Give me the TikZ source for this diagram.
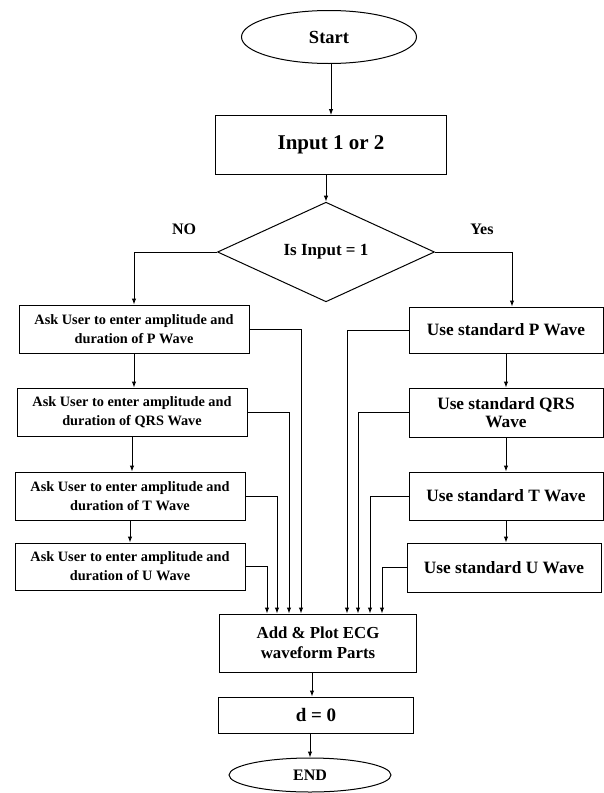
\documentclass[tikz,border=0pt]{standalone}
\usepackage{fontspec}
\setmainfont{Liberation Serif}
\usetikzlibrary{positioning, arrows.meta, shapes.geometric, calc}

\begin{document}
\begin{tikzpicture}[
  x=1pt, y=-1pt,
  font=\bfseries,
  flow/.style={-{Latex[length=6pt,width=4.5pt]}, line width=1pt},
  terminal/.style={draw, ellipse, inner sep=0pt, line width=1pt},
  process/.style={draw, rectangle, align=center, inner sep=2pt, line width=1pt},
  askbox/.style={process, minimum width=230pt, minimum height=48pt,
                 font=\fontsize{14.3}{19}\selectfont\bfseries},
  stdbox/.style={process, minimum width=194pt, minimum height=48pt,
                 font=\fontsize{17.3}{18}\selectfont\bfseries},
  decision/.style={draw, diamond, inner sep=0pt, line width=1pt,
                   minimum width=217pt, minimum height=84pt},
  branchLabel/.style={font=\fontsize{16}{18}\selectfont\bfseries},
]
\useasboundingbox (0,0) rectangle (604,793);

% --- Top: start, input, decision ---
\node[terminal, minimum width=175pt, minimum height=53pt,
      font=\fontsize{18.5}{20}\selectfont\bfseries] (start) at (329,37) {Start};
\node[process, minimum width=231pt, minimum height=59pt,
      font=\fontsize{21}{24}\selectfont\bfseries] (inp) at (331,145) {Input 1 or 2};
\node[decision, font=\fontsize{17}{18}\selectfont\bfseries] (dec) at (326,252) {Is Input = 1};
\node[branchLabel] (no)  at (184,229) {NO};
\node[branchLabel] (yes) at (482,229) {Yes};

% --- NO branch: user supplied waves ---
\node[askbox] (lP) at (134,329) {Ask User to enter amplitude and\\duration of P Wave};
\node[askbox] (lQ) at (132,412) {Ask User to enter amplitude and\\duration of QRS Wave};
\node[askbox] (lT) at (130,496) {Ask User to enter amplitude and\\duration of T Wave};
\node[askbox, minimum height=47pt] (lU) at (130,566.5) {Ask User to enter amplitude and\\duration of U Wave};

% --- Yes branch: standard waves ---
\node[stdbox, minimum height=46pt] (rP) at (506,330) {Use standard P Wave};
\node[stdbox, minimum height=49pt] (rQ) at (506,412.5) {Use standard QRS\\Wave};
\node[stdbox] (rT) at (506,496) {Use standard T Wave};
\node[stdbox, minimum height=49pt] (rU) at (504,567.5) {Use standard U Wave};

% --- Bottom: plot, reset, end ---
\node[process, minimum width=197pt, minimum height=58pt,
      font=\fontsize{16.8}{20}\selectfont\bfseries] (add) at (318,643) {Add \& Plot ECG\\waveform Parts};
\node[process, minimum width=195pt, minimum height=36pt,
      font=\fontsize{19}{22}\selectfont\bfseries] (dz) at (316,715) {d = 0};
\node[terminal, minimum width=162pt, minimum height=34pt,
      font=\fontsize{16}{18}\selectfont\bfseries] (endn) at (310,775) {END};

% entry points on top of the plot box
\coordinate (inL1) at ([xshift=-17]add.north);
\coordinate (inL2) at ([xshift=-29]add.north);
\coordinate (inL3) at ([xshift=-41]add.north);
\coordinate (inL4) at ([xshift=-51]add.north);
\coordinate (inR1) at ([xshift=29]add.north);
\coordinate (inR2) at ([xshift=40]add.north);
\coordinate (inR3) at ([xshift=52]add.north);
\coordinate (inR4) at ([xshift=64]add.north);

% --- Main flow ---
\draw[flow] (start.south -| inp) -- (inp.north);
\draw[flow] (inp.south -| dec) -- (dec.north);
\draw[flow] (dec.west) -| (lP.north);
\draw[flow] (dec.east) -| ([xshift=6]rP.north);

% NO column
\draw[flow] (lP.south) -- (lP.south |- lQ.north);
\draw[flow] (lQ.south) -- (lQ.south |- lT.north);
\draw[flow] (lT.south) -- (lT.south |- lU.north);

% Yes column
\draw[flow] (rP.south) -- (rP.south |- rQ.north);
\draw[flow] (rQ.south) -- (rQ.south |- rT.north);
\draw[flow] (rT.south) -- (rT.south |- rU.north);

% --- Feeds into the plot box ---
\draw[flow] (lP.east) -| (inL1);
\draw[flow] (lQ.east) -| (inL2);
\draw[flow] (lT.east) -| (inL3);
\draw[flow] (lU.east) -| (inL4);
\draw[flow] (rP.west) -| (inR1);
\draw[flow] (rQ.west) -| (inR2);
\draw[flow] (rT.west) -| (inR3);
\draw[flow] (rU.west) -| (inR4);

% --- Tail ---
\draw[flow] ([xshift=-6]add.south) -- ([xshift=-6]add.south |- dz.north);
\draw[flow] (dz.south -| endn) -- (endn.north);
\end{tikzpicture}
\end{document}
